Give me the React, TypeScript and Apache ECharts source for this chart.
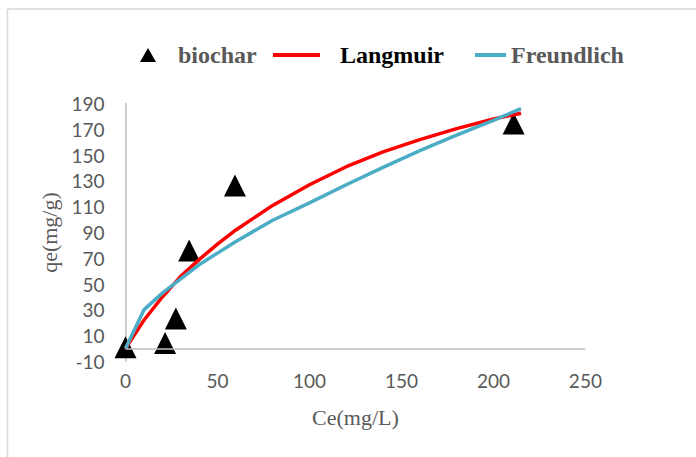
import React, { useEffect, useRef } from "react";
import * as echarts from "echarts";

// Experimental data (biochar)
const ceObserved = [0, 21.5, 27.4, 34.6, 59.5, 211];
const qeObserved = [1, 4.4, 23.4, 76, 126.5, 174.5];

// Model curves
const ceModel = [0, 10, 20, 30, 40, 50, 60, 80, 100, 120, 140, 160, 180, 200, 215];
const qeLangmuir = [0, 22, 40, 56, 69, 81, 92, 111, 127, 141, 152.5, 162, 170.5, 178, 182.5];
const qeFreundlich = [0, 30, 43, 54, 65, 74, 83, 99.5, 113, 127, 140.5, 153.5, 165.5, 177, 186];

const xTicks = { min: 0, max: 250, interval: 50 };
const yTicks = { min: -10, max: 190, interval: 20 };

const seriesNames = ["biochar", "Langmuir", "Freundlich"];

const GRAY = "#595959";
const AXIS = "#bfbfbf";

export default function App() {
  const ref = useRef<HTMLDivElement>(null);
  useEffect(() => {
    if (!ref.current) return;
    const chart = echarts.init(ref.current, undefined, { renderer: "svg" });
    const pairs = (xs: number[], ys: number[]) => xs.map((x, i) => [x, ys[i]]);
    const legendText = {
      fontFamily: "Liberation Serif",
      fontWeight: "bold" as const,
      fontSize: 24,
    };
    chart.setOption({
      animation: false,
      backgroundColor: "#ffffff",
      grid: { left: 125.5, right: 110.6, top: 103.5, bottom: 95.5, containLabel: false },
      legend: [
        {
          data: [{ name: seriesNames[0], icon: "triangle", itemStyle: { color: "#000000", opacity: 1 } }],
          left: 140,
          top: 43,
          padding: 0,
          itemWidth: 16,
          itemHeight: 14,
          textStyle: { ...legendText, color: GRAY, padding: [0, 0, 0, 17] },
        },
        {
          data: [{ name: seriesNames[1], icon: "rect" }],
          left: 273,
          top: 43,
          padding: 0,
          itemWidth: 47,
          itemHeight: 4,
          textStyle: { ...legendText, color: "#000000", padding: [0, 0, 0, 15] },
        },
        {
          data: [{ name: seriesNames[2], icon: "rect" }],
          left: 475,
          top: 43,
          padding: 0,
          itemWidth: 31,
          itemHeight: 4,
          textStyle: { ...legendText, color: GRAY },
        },
      ],
      xAxis: {
        type: "value",
        ...xTicks,
        name: "Ce(mg/L)",
        nameLocation: "middle",
        nameGap: 45,
        nameTextStyle: { fontFamily: "Liberation Serif", fontSize: 22, color: GRAY },
        axisLine: { show: false },
        axisTick: { show: false },
        splitLine: { show: false },
        axisLabel: { color: GRAY, fontFamily: "Lato", fontSize: 19, margin: 9 },
      },
      yAxis: {
        type: "value",
        ...yTicks,
        name: "qe(mg/g)",
        nameLocation: "middle",
        nameGap: 54,
        nameTextStyle: { fontFamily: "Liberation Serif", fontSize: 22, color: GRAY },
        axisLine: { show: true, onZero: false, lineStyle: { color: AXIS, width: 1.5 } },
        axisTick: { show: false },
        splitLine: { show: false },
        axisLabel: { color: GRAY, fontFamily: "Lato", fontSize: 19, margin: 21 },
      },
      graphic: [
        { type: "line", shape: { x1: 7.5, y1: 9, x2: 696, y2: 9 }, style: { stroke: "#d9d9d9", lineWidth: 1.5 }, silent: true },
        { type: "line", shape: { x1: 7.5, y1: 9, x2: 7.5, y2: 457 }, style: { stroke: "#d9d9d9", lineWidth: 1.5 }, silent: true },
      ],
      series: [
        {
          name: seriesNames[0],
          type: "scatter",
          symbol: "triangle",
          symbolSize: [22, 22],
          itemStyle: { color: "#000000", opacity: 1 },
          data: pairs(ceObserved, qeObserved),
          markLine: {
            silent: true,
            symbol: ["none", "none"],
            label: { show: false },
            lineStyle: { color: AXIS, width: 1.5, type: "solid" },
            data: [{ yAxis: 0 }],
          },
        },
        {
          name: seriesNames[1],
          type: "line",
          symbol: "none",
          showSymbol: false,
          lineStyle: { color: "#ff0000", width: 3.5 },
          itemStyle: { color: "#ff0000" },
          data: pairs(ceModel, qeLangmuir),
        },
        {
          name: seriesNames[2],
          type: "line",
          symbol: "none",
          showSymbol: false,
          lineStyle: { color: "#4bacc6", width: 3.5 },
          itemStyle: { color: "#4bacc6" },
          data: pairs(ceModel, qeFreundlich),
        },
      ],
    });
    return () => chart.dispose();
  }, []);
  return (
    <div
      ref={ref}
      style={{ position: "fixed", left: 0, top: 0, width: 696, height: 457, background: "#fff" }}
    />
  );
}
